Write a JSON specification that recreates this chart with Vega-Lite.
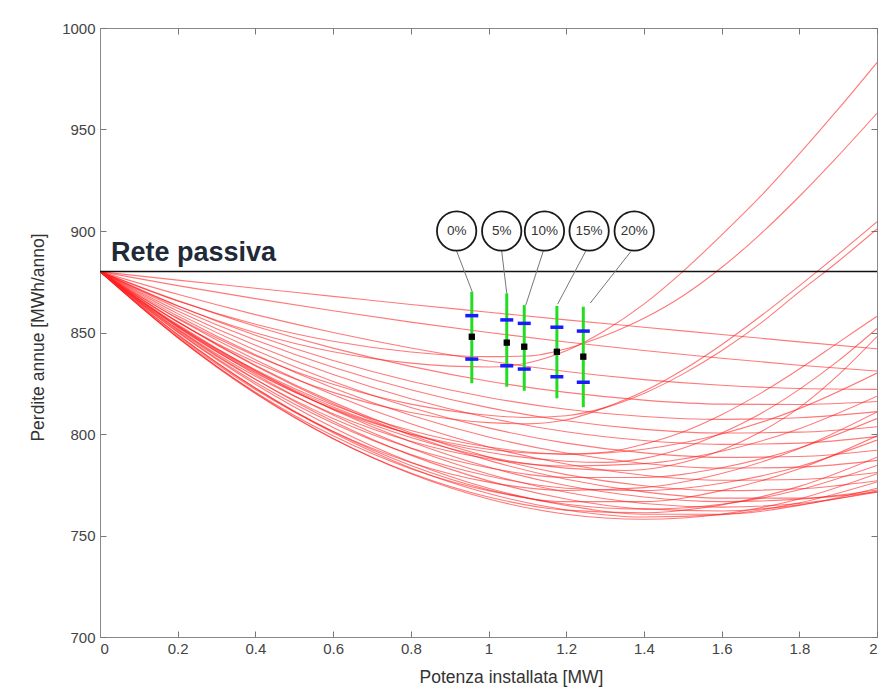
{
"$schema": "https://vega.github.io/schema/vega-lite/v6.json",
"width": 777, "height": 609,
"autosize": {"type": "none"},
"padding": {"left": 100, "top": 28, "right": 14, "bottom": 53},
"background": "white",
"config": {"view": {"stroke": "#888888", "strokeWidth": 1}, "font": "Liberation Sans"},
"datasets": {
"curves": [
{"c":"A1","x":0,"y":880},{"c":"A1","x":0.2,"y":875.8},{"c":"A1","x":0.4,"y":871.8},{"c":"A1","x":0.6,"y":867.8},{"c":"A1","x":0.8,"y":863.8},{"c":"A1","x":1,"y":860},{"c":"A1","x":1.2,"y":856.2},{"c":"A1","x":1.4,"y":852.6},{"c":"A1","x":1.6,"y":849},{"c":"A1","x":1.8,"y":845.4},{"c":"A1","x":2,"y":842},
{"c":"A2","x":0,"y":880},{"c":"A2","x":0.2,"y":873.1},{"c":"A2","x":0.4,"y":866.7},{"c":"A2","x":0.6,"y":860.7},{"c":"A2","x":0.8,"y":855.1},{"c":"A2","x":1,"y":850},{"c":"A2","x":1.2,"y":845.3},{"c":"A2","x":1.4,"y":841.1},{"c":"A2","x":1.6,"y":837.3},{"c":"A2","x":1.8,"y":833.9},{"c":"A2","x":2,"y":831},
{"c":"A3","x":0,"y":880},{"c":"A3","x":0.2,"y":868.8},{"c":"A3","x":0.4,"y":858.8},{"c":"A3","x":0.6,"y":850},{"c":"A3","x":0.8,"y":842.4},{"c":"A3","x":1,"y":836},{"c":"A3","x":1.2,"y":830.8},{"c":"A3","x":1.4,"y":826.8},{"c":"A3","x":1.6,"y":824},{"c":"A3","x":1.8,"y":822.4},{"c":"A3","x":2,"y":822},
{"c":"A4","x":0,"y":880},{"c":"A4","x":0.2,"y":865.7},{"c":"A4","x":0.4,"y":853.1},{"c":"A4","x":0.6,"y":842.3},{"c":"A4","x":0.8,"y":833.3},{"c":"A4","x":1,"y":826},{"c":"A4","x":1.2,"y":820.5},{"c":"A4","x":1.4,"y":816.7},{"c":"A4","x":1.6,"y":814.7},{"c":"A4","x":1.8,"y":814.5},{"c":"A4","x":2,"y":816},
{"c":"A5","x":0,"y":880},{"c":"A5","x":0.2,"y":863.2},{"c":"A5","x":0.4,"y":848.6},{"c":"A5","x":0.6,"y":836.2},{"c":"A5","x":0.8,"y":826},{"c":"A5","x":1,"y":818},{"c":"A5","x":1.2,"y":812.2},{"c":"A5","x":1.4,"y":808.6},{"c":"A5","x":1.6,"y":807.2},{"c":"A5","x":1.8,"y":808},{"c":"A5","x":2,"y":811},
{"c":"A6","x":0,"y":880},{"c":"A6","x":0.2,"y":862},{"c":"A6","x":0.4,"y":846.3},{"c":"A6","x":0.6,"y":832.9},{"c":"A6","x":0.8,"y":821.8},{"c":"A6","x":1,"y":813},{"c":"A6","x":1.2,"y":806.5},{"c":"A6","x":1.4,"y":802.3},{"c":"A6","x":1.6,"y":800.5},{"c":"A6","x":1.8,"y":800.9},{"c":"A6","x":2,"y":803.6},
{"c":"A7","x":0,"y":880},{"c":"A7","x":0.2,"y":860.6},{"c":"A7","x":0.4,"y":843.7},{"c":"A7","x":0.6,"y":829.3},{"c":"A7","x":0.8,"y":817.4},{"c":"A7","x":1,"y":808},{"c":"A7","x":1.2,"y":801.1},{"c":"A7","x":1.4,"y":796.8},{"c":"A7","x":1.6,"y":794.9},{"c":"A7","x":1.8,"y":795.5},{"c":"A7","x":2,"y":798.7},
{"c":"A8","x":0,"y":880},{"c":"A8","x":0.2,"y":859.3},{"c":"A8","x":0.4,"y":841.3},{"c":"A8","x":0.6,"y":825.9},{"c":"A8","x":0.8,"y":813.1},{"c":"A8","x":1,"y":803},{"c":"A8","x":1.2,"y":795.5},{"c":"A8","x":1.4,"y":790.7},{"c":"A8","x":1.6,"y":788.5},{"c":"A8","x":1.8,"y":788.9},{"c":"A8","x":2,"y":792},
{"c":"A9","x":0,"y":880},{"c":"A9","x":0.2,"y":858.1},{"c":"A9","x":0.4,"y":839},{"c":"A9","x":0.6,"y":822.7},{"c":"A9","x":0.8,"y":809.2},{"c":"A9","x":1,"y":798.5},{"c":"A9","x":1.2,"y":790.6},{"c":"A9","x":1.4,"y":785.5},{"c":"A9","x":1.6,"y":783.2},{"c":"A9","x":1.8,"y":783.7},{"c":"A9","x":2,"y":787},
{"c":"A10","x":0,"y":880},{"c":"A10","x":0.2,"y":856.8},{"c":"A10","x":0.4,"y":836.6},{"c":"A10","x":0.6,"y":819.3},{"c":"A10","x":0.8,"y":805},{"c":"A10","x":1,"y":793.6},{"c":"A10","x":1.2,"y":785.2},{"c":"A10","x":1.4,"y":779.7},{"c":"A10","x":1.6,"y":777.2},{"c":"A10","x":1.8,"y":777.6},{"c":"A10","x":2,"y":781},
{"c":"A11","x":0,"y":880},{"c":"A11","x":0.2,"y":855.4},{"c":"A11","x":0.4,"y":833.9},{"c":"A11","x":0.6,"y":815.7},{"c":"A11","x":0.8,"y":800.6},{"c":"A11","x":1,"y":788.7},{"c":"A11","x":1.2,"y":780},{"c":"A11","x":1.4,"y":774.5},{"c":"A11","x":1.6,"y":772.1},{"c":"A11","x":1.8,"y":773},{"c":"A11","x":2,"y":777},
{"c":"A12","x":0,"y":880},{"c":"A12","x":0.2,"y":853.9},{"c":"A12","x":0.4,"y":831.3},{"c":"A12","x":0.6,"y":812},{"c":"A12","x":0.8,"y":796.2},{"c":"A12","x":1,"y":783.7},{"c":"A12","x":1.2,"y":774.6},{"c":"A12","x":1.4,"y":769},{"c":"A12","x":1.6,"y":766.7},{"c":"A12","x":1.8,"y":767.9},{"c":"A12","x":2,"y":772.4},
{"c":"B1","x":0,"y":880},{"c":"B1","x":0.2,"y":847.6},{"c":"B1","x":0.4,"y":820.2},{"c":"B1","x":0.6,"y":797.8},{"c":"B1","x":0.8,"y":780.4},{"c":"B1","x":1,"y":768},{"c":"B1","x":1.2,"y":760.5},{"c":"B1","x":1.4,"y":758},{"c":"B1","x":1.6,"y":760.5},{"c":"B1","x":1.8,"y":768},{"c":"B1","x":2,"y":780.4},
{"c":"B2","x":0,"y":880},{"c":"B2","x":0.2,"y":850.1},{"c":"B2","x":0.4,"y":824.5},{"c":"B2","x":0.6,"y":803.2},{"c":"B2","x":0.8,"y":786.1},{"c":"B2","x":1,"y":773.3},{"c":"B2","x":1.2,"y":764.8},{"c":"B2","x":1.4,"y":760.5},{"c":"B2","x":1.6,"y":760.5},{"c":"B2","x":1.8,"y":764.8},{"c":"B2","x":2,"y":773.3},
{"c":"B3","x":0,"y":880},{"c":"B3","x":0.2,"y":852.8},{"c":"B3","x":0.4,"y":829.3},{"c":"B3","x":0.6,"y":809.3},{"c":"B3","x":0.8,"y":793},{"c":"B3","x":1,"y":780.3},{"c":"B3","x":1.2,"y":771.3},{"c":"B3","x":1.4,"y":765.8},{"c":"B3","x":1.6,"y":764},{"c":"B3","x":1.8,"y":765.8},{"c":"B3","x":2,"y":771.3},
{"c":"B4","x":0,"y":880},{"c":"B4","x":0.2,"y":847.4},{"c":"B4","x":0.4,"y":819.9},{"c":"B4","x":0.6,"y":797.7},{"c":"B4","x":0.8,"y":780.8},{"c":"B4","x":1,"y":769},{"c":"B4","x":1.2,"y":762.5},{"c":"B4","x":1.4,"y":761.2},{"c":"B4","x":1.6,"y":765.1},{"c":"B4","x":1.8,"y":774.2},{"c":"B4","x":2,"y":788.6},
{"c":"B5","x":0,"y":880},{"c":"B5","x":0.2,"y":847.6},{"c":"B5","x":0.4,"y":820.6},{"c":"B5","x":0.6,"y":799.1},{"c":"B5","x":0.8,"y":782.9},{"c":"B5","x":1,"y":772.1},{"c":"B5","x":1.2,"y":766.7},{"c":"B5","x":1.4,"y":766.7},{"c":"B5","x":1.6,"y":772.1},{"c":"B5","x":1.8,"y":782.9},{"c":"B5","x":2,"y":799.1},
{"c":"B6","x":0,"y":880},{"c":"B6","x":0.2,"y":855.2},{"c":"B6","x":0.4,"y":833.5},{"c":"B6","x":0.6,"y":814.9},{"c":"B6","x":0.8,"y":799.4},{"c":"B6","x":1,"y":787},{"c":"B6","x":1.2,"y":777.7},{"c":"B6","x":1.4,"y":771.5},{"c":"B6","x":1.6,"y":768.4},{"c":"B6","x":1.8,"y":768.4},{"c":"B6","x":2,"y":771.5},
{"c":"B7","x":0,"y":880},{"c":"B7","x":0.2,"y":848.9},{"c":"B7","x":0.4,"y":822.5},{"c":"B7","x":0.6,"y":800.6},{"c":"B7","x":0.8,"y":783.3},{"c":"B7","x":1,"y":770.7},{"c":"B7","x":1.2,"y":762.6},{"c":"B7","x":1.4,"y":759.1},{"c":"B7","x":1.6,"y":760.3},{"c":"B7","x":1.8,"y":766.1},{"c":"B7","x":2,"y":776.4},
{"c":"B8","x":0,"y":880},{"c":"B8","x":0.2,"y":848.2},{"c":"B8","x":0.4,"y":821.9},{"c":"B8","x":0.6,"y":801.2},{"c":"B8","x":0.8,"y":786},{"c":"B8","x":1,"y":776.3},{"c":"B8","x":1.2,"y":772.2},{"c":"B8","x":1.4,"y":773.6},{"c":"B8","x":1.6,"y":780.5},{"c":"B8","x":1.8,"y":792.9},{"c":"B8","x":2,"y":810.9},
{"c":"B9","x":0,"y":880},{"c":"B9","x":0.2,"y":851.5},{"c":"B9","x":0.4,"y":827},{"c":"B9","x":0.6,"y":806.3},{"c":"B9","x":0.8,"y":789.6},{"c":"B9","x":1,"y":776.9},{"c":"B9","x":1.2,"y":768},{"c":"B9","x":1.4,"y":763.1},{"c":"B9","x":1.6,"y":762.1},{"c":"B9","x":1.8,"y":765.1},{"c":"B9","x":2,"y":771.9},
{"c":"B10","x":0,"y":880},{"c":"B10","x":0.2,"y":849},{"c":"B10","x":0.4,"y":822.7},{"c":"B10","x":0.6,"y":801.2},{"c":"B10","x":0.8,"y":784.5},{"c":"B10","x":1,"y":772.5},{"c":"B10","x":1.2,"y":765.4},{"c":"B10","x":1.4,"y":763},{"c":"B10","x":1.6,"y":765.4},{"c":"B10","x":1.8,"y":772.5},{"c":"B10","x":2,"y":784.5},
{"c":"M1","x":0,"y":880},{"c":"M1","x":0.2,"y":852.5},{"c":"M1","x":0.4,"y":830},{"c":"M1","x":0.6,"y":812.5},{"c":"M1","x":0.8,"y":800},{"c":"M1","x":1,"y":792.5},{"c":"M1","x":1.2,"y":790},{"c":"M1","x":1.4,"y":792.5},{"c":"M1","x":1.6,"y":800},{"c":"M1","x":1.8,"y":812.5},{"c":"M1","x":2,"y":830},
{"c":"M2","x":0,"y":880},{"c":"M2","x":0.2,"y":851.7},{"c":"M2","x":0.4,"y":828.4},{"c":"M2","x":0.6,"y":810},{"c":"M2","x":0.8,"y":796.4},{"c":"M2","x":1,"y":787.8},{"c":"M2","x":1.2,"y":784.2},{"c":"M2","x":1.4,"y":785.4},{"c":"M2","x":1.6,"y":791.5},{"c":"M2","x":1.8,"y":802.6},{"c":"M2","x":2,"y":818.6},
{"c":"M3","x":0,"y":880},{"c":"M3","x":0.2,"y":851},{"c":"M3","x":0.4,"y":826.9},{"c":"M3","x":0.6,"y":807.6},{"c":"M3","x":0.8,"y":793.1},{"c":"M3","x":1,"y":783.4},{"c":"M3","x":1.2,"y":778.6},{"c":"M3","x":1.4,"y":778.6},{"c":"M3","x":1.6,"y":783.4},{"c":"M3","x":1.8,"y":793.1},{"c":"M3","x":2,"y":807.6},
{"c":"M4","x":0,"y":880},{"c":"M4","x":0.2,"y":850.4},{"c":"M4","x":0.4,"y":825.5},{"c":"M4","x":0.6,"y":805.3},{"c":"M4","x":0.8,"y":789.9},{"c":"M4","x":1,"y":779.3},{"c":"M4","x":1.2,"y":773.3},{"c":"M4","x":1.4,"y":772.1},{"c":"M4","x":1.6,"y":775.7},{"c":"M4","x":1.8,"y":784},{"c":"M4","x":2,"y":797},
{"c":"S1","x":0,"y":880},{"c":"S1","x":0.2,"y":863.1},{"c":"S1","x":0.4,"y":849.9},{"c":"S1","x":0.6,"y":840.5},{"c":"S1","x":0.8,"y":834.9},{"c":"S1","x":1,"y":833},{"c":"S1","x":1.1,"y":835},{"c":"S1","x":1.2,"y":841},{"c":"S1","x":1.3,"y":851},{"c":"S1","x":1.4,"y":864},{"c":"S1","x":1.5,"y":880},{"c":"S1","x":1.6,"y":898},{"c":"S1","x":1.7,"y":917},{"c":"S1","x":1.8,"y":938},{"c":"S1","x":1.9,"y":960},{"c":"S1","x":2,"y":983},
{"c":"S2","x":0,"y":880},{"c":"S2","x":0.2,"y":865.5},{"c":"S2","x":0.4,"y":854.1},{"c":"S2","x":0.6,"y":845.7},{"c":"S2","x":0.8,"y":840.4},{"c":"S2","x":1,"y":838.1},{"c":"S2","x":1.1,"y":838.4},{"c":"S2","x":1.2,"y":842},{"c":"S2","x":1.3,"y":848.5},{"c":"S2","x":1.4,"y":857},{"c":"S2","x":1.5,"y":868},{"c":"S2","x":1.6,"y":882},{"c":"S2","x":1.7,"y":898.5},{"c":"S2","x":1.8,"y":917},{"c":"S2","x":1.9,"y":937},{"c":"S2","x":2,"y":958},
{"c":"S3","x":0,"y":880},{"c":"S3","x":0.2,"y":855.2},{"c":"S3","x":0.4,"y":835.4},{"c":"S3","x":0.6,"y":820.5},{"c":"S3","x":0.8,"y":810.6},{"c":"S3","x":1,"y":805.6},{"c":"S3","x":1.1,"y":805},{"c":"S3","x":1.2,"y":807},{"c":"S3","x":1.3,"y":813},{"c":"S3","x":1.4,"y":821},{"c":"S3","x":1.5,"y":831.5},{"c":"S3","x":1.6,"y":844},{"c":"S3","x":1.7,"y":858},{"c":"S3","x":1.8,"y":873},{"c":"S3","x":1.9,"y":888.5},{"c":"S3","x":2,"y":904.5},
{"c":"S4","x":0,"y":880},{"c":"S4","x":0.2,"y":857.1},{"c":"S4","x":0.4,"y":838.6},{"c":"S4","x":0.6,"y":824.5},{"c":"S4","x":0.8,"y":814.7},{"c":"S4","x":1,"y":809.2},{"c":"S4","x":1.1,"y":808.1},{"c":"S4","x":1.2,"y":809},{"c":"S4","x":1.3,"y":813},{"c":"S4","x":1.4,"y":820},{"c":"S4","x":1.5,"y":829.5},{"c":"S4","x":1.6,"y":841},{"c":"S4","x":1.7,"y":854.5},{"c":"S4","x":1.8,"y":870},{"c":"S4","x":1.9,"y":885},{"c":"S4","x":2,"y":901},
{"c":"S5","x":0,"y":880},{"c":"S5","x":0.2,"y":853.5},{"c":"S5","x":0.4,"y":831.6},{"c":"S5","x":0.6,"y":814.3},{"c":"S5","x":0.8,"y":801.7},{"c":"S5","x":1,"y":793.6},{"c":"S5","x":1.2,"y":790.1},{"c":"S5","x":1.3,"y":791},{"c":"S5","x":1.4,"y":795},{"c":"S5","x":1.5,"y":801},{"c":"S5","x":1.6,"y":809.5},{"c":"S5","x":1.7,"y":820},{"c":"S5","x":1.8,"y":832},{"c":"S5","x":1.9,"y":845},{"c":"S5","x":2,"y":858},
{"c":"S6","x":0,"y":880},{"c":"S6","x":0.2,"y":853.3},{"c":"S6","x":0.4,"y":831.1},{"c":"S6","x":0.6,"y":813.3},{"c":"S6","x":0.8,"y":799.9},{"c":"S6","x":1,"y":791},{"c":"S6","x":1.2,"y":786.6},{"c":"S6","x":1.3,"y":786},{"c":"S6","x":1.4,"y":788},{"c":"S6","x":1.5,"y":793},{"c":"S6","x":1.6,"y":800.5},{"c":"S6","x":1.7,"y":810},{"c":"S6","x":1.8,"y":822},{"c":"S6","x":1.9,"y":836},{"c":"S6","x":2,"y":852},
{"c":"S7","x":0,"y":880},{"c":"S7","x":0.2,"y":853.1},{"c":"S7","x":0.4,"y":830.5},{"c":"S7","x":0.6,"y":812.2},{"c":"S7","x":0.8,"y":798.3},{"c":"S7","x":1,"y":788.6},{"c":"S7","x":1.2,"y":783.2},{"c":"S7","x":1.35,"y":782},{"c":"S7","x":1.4,"y":782.5},{"c":"S7","x":1.5,"y":786},{"c":"S7","x":1.6,"y":792},{"c":"S7","x":1.7,"y":801},{"c":"S7","x":1.8,"y":813},{"c":"S7","x":1.9,"y":829},{"c":"S7","x":2,"y":848}
],
"bars": [
{"lab":"0%","x":0.957,"lo":825.0,"hi":870.1,"q1":836.9,"mid":847.9,"q3":858.3},
{"lab":"5%","x":1.047,"lo":823.3,"hi":869.3,"q1":833.6,"mid":845.0,"q3":856.2},
{"lab":"10%","x":1.092,"lo":821.3,"hi":863.5,"q1":832.0,"mid":843.0,"q3":854.5},
{"lab":"15%","x":1.176,"lo":817.6,"hi":863.1,"q1":828.2,"mid":840.5,"q3":852.6},
{"lab":"20%","x":1.244,"lo":813.2,"hi":862.7,"q1":825.5,"mid":838.1,"q3":850.7}
],
"labels": [
{"lab":"0%","cx":0.918,"cy":900,"lx0":0.918,"ly0":890.1,"lx1":0.958,"ly1":870.1},
{"lab":"5%","cx":1.034,"cy":900,"lx0":1.034,"ly0":890.1,"lx1":1.047,"ly1":869.3},
{"lab":"10%","cx":1.144,"cy":900,"lx0":1.141,"ly0":890.1,"lx1":1.096,"ly1":863.5},
{"lab":"15%","cx":1.259,"cy":900,"lx0":1.25,"ly0":890,"lx1":1.178,"ly1":864},
{"lab":"20%","cx":1.375,"cy":900,"lx0":1.366,"ly0":889.8,"lx1":1.262,"ly1":864.5}
]
},
"resolve": {"axis": {"x": "independent", "y": "independent"}},
"layer": [
{
"data": {"name": "curves"},
"mark": {"type": "line", "color": "#ff2020", "strokeWidth": 1.1, "opacity": 0.6, "interpolate": "monotone", "clip": true},
"encoding": {
"x": {"field": "x", "type": "quantitative", "scale": {"domain": [0, 2], "nice": false, "zero": false},
"axis": {"orient": "bottom", "values": [0,0.2,0.4,0.6,0.8,1,1.2,1.4,1.6,1.8,2], "format": "~g", "grid": false, "tickSize": -6, "tickColor": "#777777", "labelPadding": 10, "labelFontSize": 15, "labelColor": "#444444", "labelFont": "Liberation Sans", "domainColor": "#888888", "title": "Potenza installata [MW]", "titleFont": "Liberation Sans", "titleFontSize": 17.5, "titleFontWeight": "normal", "titleColor": "#333333", "titleX": 411, "titleY": 31, "titleBaseline": "top"}},
"y": {"field": "y", "type": "quantitative", "scale": {"domain": [700, 1000], "nice": false, "zero": false},
"axis": {"orient": "left", "values": [700,750,800,850,900,950,1000], "format": "d", "grid": false, "tickSize": -6, "tickColor": "#777777", "labelPadding": 11, "labelFontSize": 15, "labelColor": "#444444", "labelFont": "Liberation Sans", "domainColor": "#888888", "title": "Perdite annue [MWh/anno]", "titleFont": "Liberation Sans", "titleFontSize": 17.5, "titleFontWeight": "normal", "titleColor": "#333333", "titleX": -62, "titleY": 309, "titleBaseline": "middle"}},
"detail": {"field": "c", "type": "nominal"}
}
},
{
"data": {"values": [{"x": 0, "x2": 2, "y": 880}]},
"mark": {"type": "rule", "color": "#111111", "strokeWidth": 1.5},
"encoding": {
"x": {"field": "x", "type": "quantitative", "axis": {"orient": "top", "values": [0,0.2,0.4,0.6,0.8,1,1.2,1.4,1.6,1.8,2], "labels": false, "title": null, "grid": false, "domain": false, "tickSize": -6, "tickColor": "#777777"}},
"x2": {"field": "x2"},
"y": {"field": "y", "type": "quantitative", "axis": {"orient": "right", "values": [700,750,800,850,900,950,1000], "labels": false, "title": null, "grid": false, "domain": false, "tickSize": -6, "tickColor": "#777777"}}
}
},
{
"data": {"values": [{"x": 0.028, "y": 885.2, "t": "Rete passiva"}]},
"mark": {"type": "text", "align": "left", "baseline": "alphabetic", "font": "Liberation Sans", "fontSize": 27, "fontWeight": "bold", "color": "#1e2a38"},
"encoding": {
"x": {"field": "x", "type": "quantitative", "axis": null},
"y": {"field": "y", "type": "quantitative", "axis": null},
"text": {"field": "t"}
}
},
{
"data": {"name": "labels"},
"mark": {"type": "rule", "color": "#777777", "strokeWidth": 1},
"encoding": {
"x": {"field": "lx0", "type": "quantitative", "axis": null},
"y": {"field": "ly0", "type": "quantitative", "axis": null},
"x2": {"field": "lx1"},
"y2": {"field": "ly1"}
}
},
{
"data": {"name": "bars"},
"mark": {"type": "rule", "color": "#22dd22", "strokeWidth": 3},
"encoding": {
"x": {"field": "x", "type": "quantitative", "axis": null},
"y": {"field": "lo", "type": "quantitative", "axis": null},
"y2": {"field": "hi"}
}
},
{
"data": {"name": "bars"},
"mark": {"type": "tick", "orient": "horizontal", "color": "#1a1aff", "size": 13, "thickness": 3.5, "opacity": 1},
"encoding": {
"x": {"field": "x", "type": "quantitative", "axis": null},
"y": {"field": "q1", "type": "quantitative", "axis": null}
}
},
{
"data": {"name": "bars"},
"mark": {"type": "tick", "orient": "horizontal", "color": "#1a1aff", "size": 13, "thickness": 3.5, "opacity": 1},
"encoding": {
"x": {"field": "x", "type": "quantitative", "axis": null},
"y": {"field": "q3", "type": "quantitative", "axis": null}
}
},
{
"data": {"name": "bars"},
"mark": {"type": "point", "shape": "square", "size": 40, "filled": true, "color": "#000000", "opacity": 1},
"encoding": {
"x": {"field": "x", "type": "quantitative", "axis": null},
"y": {"field": "mid", "type": "quantitative", "axis": null}
}
},
{
"data": {"name": "labels"},
"mark": {"type": "point", "shape": "circle", "size": 1550, "filled": false, "fill": "white", "fillOpacity": 1, "stroke": "#1a1a1a", "strokeWidth": 1.8, "opacity": 1},
"encoding": {
"x": {"field": "cx", "type": "quantitative", "axis": null},
"y": {"field": "cy", "type": "quantitative", "axis": null}
}
},
{
"data": {"name": "labels"},
"mark": {"type": "text", "font": "Liberation Sans", "fontSize": 13.5, "color": "#333333", "align": "center", "baseline": "middle"},
"encoding": {
"x": {"field": "cx", "type": "quantitative", "axis": null},
"y": {"field": "cy", "type": "quantitative", "axis": null},
"text": {"field": "lab"}
}
}
]
}
